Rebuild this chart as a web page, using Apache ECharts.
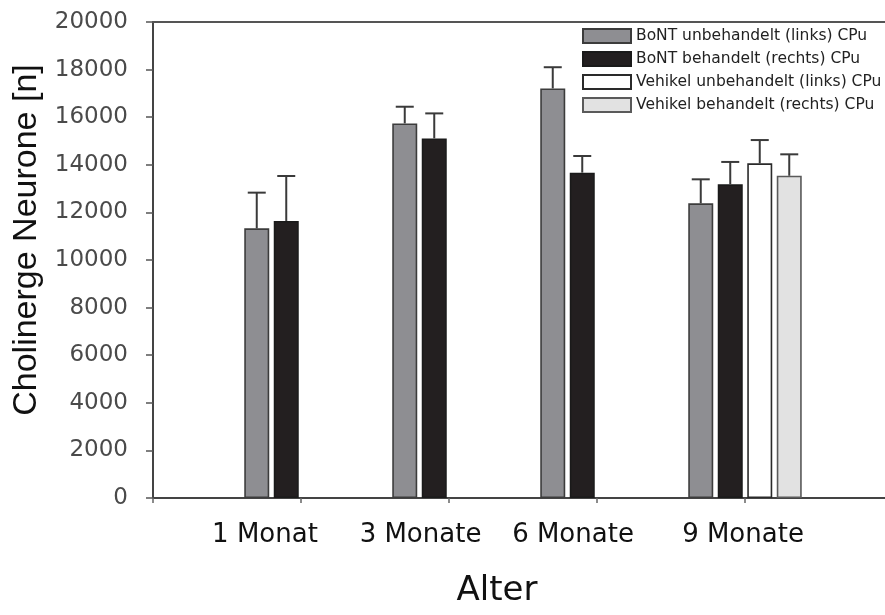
<!DOCTYPE html>
<html>
<head>
<meta charset="utf-8">
<script src="https://cdn.jsdelivr.net/npm/echarts@6/dist/echarts.min.js"></script>
<style>html,body{margin:0;padding:0;background:#fff;}#c{width:885px;height:615px;}</style>
</head>
<body>
<div id="c"></div>
<script>
const categories = ['1 Monat', '3 Monate', '6 Monate', '9 Monate'];
const seriesNames = ['BoNT unbehandelt (links) CPu', 'BoNT behandelt (rechts) CPu', 'Vehikel unbehandelt (links) CPu', 'Vehikel behandelt (rechts) CPu'];
const bontUnbehandelt = [11330, 15740, 17210, 12380];
const bontBehandelt = [11640, 15110, 13670, 13180];
const vehikelUnbehandelt = [null, null, null, 14060];
const vehikelBehandelt = [null, null, null, 13540];
const errBontUnbehandelt = [1500, 700, 890, 1010];
const errBontBehandelt = [1890, 1050, 700, 940];
const errVehikelUnbehandelt = [null, null, null, 980];
const errVehikelBehandelt = [null, null, null, 900];
const yTicks = [0, 2000, 4000, 6000, 8000, 10000, 12000, 14000, 16000, 18000, 20000];

const values = [bontUnbehandelt, bontBehandelt, vehikelUnbehandelt, vehikelBehandelt];
const errors = [errBontUnbehandelt, errBontBehandelt, errVehikelUnbehandelt, errVehikelBehandelt];
const fills = ['#8e8e92', '#231f20', '#ffffff', '#e2e2e2'];
const borders = ['#3c3c3c', '#1a1a1a', '#2a2a2a', '#5a5a5a'];
const labelShift = [72, 57, 48, 4];

const BAR_W = 25, GAP = 4.5;
// padded category axis: blank slot before and after so the groups sit on the ticks
const axisCats = [''].concat(categories, ['']);
const pad = arr => [null].concat(arr, [null]);

const chart = echarts.init(document.getElementById('c'), null, {renderer: 'canvas'});

const barSeries = values.map((v, s) => ({
  name: seriesNames[s],
  type: 'bar',
  data: pad(v),
  barWidth: BAR_W,
  barGap: (GAP / BAR_W * 100) + '%',
  itemStyle: {color: fills[s], borderColor: borders[s], borderWidth: 1.6},
  z: 2
}));

const errData = [];
values.forEach((v, s) => {
  v.forEach((val, i) => {
    if (val != null && errors[s][i] != null) errData.push([i + 1, val, errors[s][i], s]);
  });
});

const errSeries = {
  type: 'custom',
  name: 'err',
  data: errData,
  encode: {x: 0, y: 1},
  z: 3,
  renderItem: function (params, api) {
    const i = api.value(0), v = api.value(1), e = api.value(2), s = api.value(3);
    const base = api.coord([i, v]);
    const top = api.coord([i, v + e]);
    const x = base[0] + (s - 1.5) * (BAR_W + GAP);
    const half = 9;
    const st = {stroke: '#3a3a3a', lineWidth: 2, fill: null};
    return {
      type: 'group',
      children: [
        {type: 'line', shape: {x1: x, y1: base[1], x2: x, y2: top[1]}, style: st},
        {type: 'line', shape: {x1: x - half, y1: top[1], x2: x + half, y2: top[1]}, style: st}
      ]
    };
  }
};

chart.setOption({
  animation: false,
  backgroundColor: '#fff',
  grid: {left: 153, right: -8, top: 22, bottom: 117, containLabel: false, outerBoundsMode: 'none'},
  legend: {
    data: seriesNames,
    orient: 'vertical',
    left: 582,
    top: 28,
    padding: 0,
    icon: 'rect',
    itemWidth: 48,
    itemHeight: 14,
    itemGap: 7,
    align: 'left',
    textStyle: {fontFamily: 'DejaVu Sans', fontSize: 15.5, color: '#222'}
  },
  xAxis: [{
    type: 'category',
    data: axisCats.map((c, k) => (k >= 1 && k <= categories.length)
      ? {value: c, textStyle: {padding: [0, labelShift[k - 1], 0, 0]}}
      : c),
    boundaryGap: false,
    axisLine: {lineStyle: {color: '#444', width: 2}},
    axisTick: {show: true, inside: false, length: 5, lineStyle: {color: '#666', width: 1.5}},
    axisLabel: {fontFamily: 'DejaVu Sans', fontSize: 26, color: '#111', margin: 24, interval: 0},
    name: 'Alter',
    nameLocation: 'middle',
    nameGap: 76,
    nameTextStyle: {fontFamily: 'DejaVu Sans', fontSize: 34, color: '#111', padding: [0, 52, 0, 0]},
    splitLine: {show: false}
  }, {
    type: 'category',
    position: 'top',
    data: axisCats,
    boundaryGap: false,
    axisLine: {show: true, lineStyle: {color: '#555', width: 2}},
    axisTick: {show: false},
    axisLabel: {show: false},
    splitLine: {show: false}
  }],
  yAxis: {
    type: 'value',
    min: yTicks[0],
    max: yTicks[yTicks.length - 1],
    interval: yTicks[1] - yTicks[0],
    axisLine: {show: true, lineStyle: {color: '#444', width: 2}},
    axisTick: {show: true, inside: false, length: 7, lineStyle: {color: '#555', width: 1.5}},
    axisLabel: {fontFamily: 'DejaVu Sans', fontSize: 23, color: '#4a4a4a', margin: 25, formatter: v => String(v)},
    splitLine: {show: false},
    name: 'Cholinerge Neurone [n]',
    nameLocation: 'middle',
    nameRotate: 90,
    nameGap: 102,
    nameTextStyle: {fontFamily: 'Liberation Sans', fontSize: 34, color: '#111', padding: [0, 0, 0, 40]}
  },
  series: barSeries.concat([errSeries])
});
</script>
</body>
</html>
